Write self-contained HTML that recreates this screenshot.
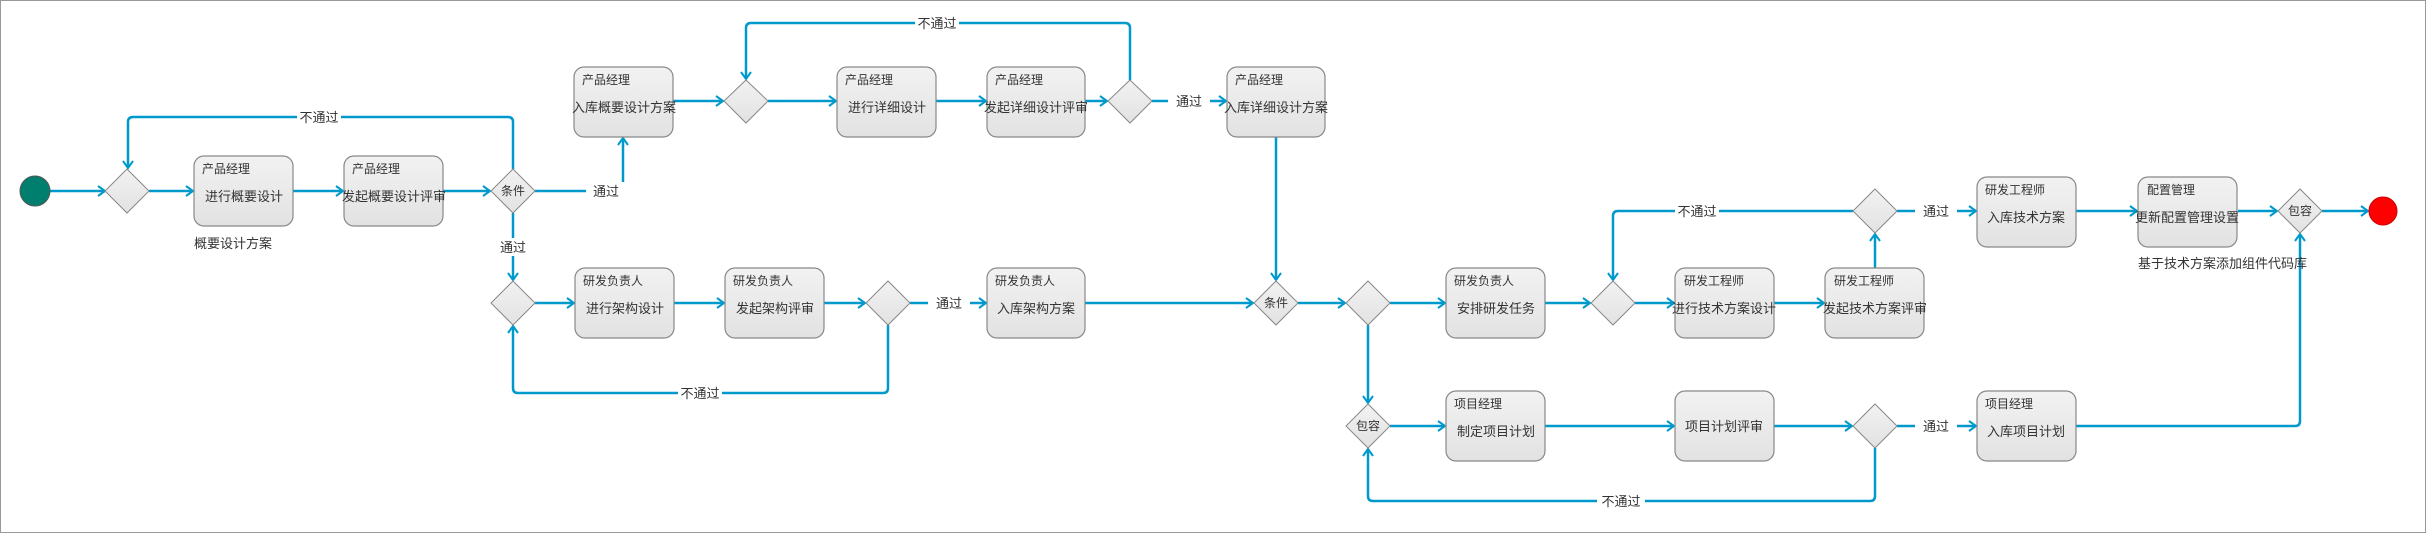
<!DOCTYPE html>
<html><head><meta charset="utf-8"><style>
html,body{margin:0;padding:0;background:#fff}
svg{display:block}
text{font-family:"Liberation Sans","Noto Sans CJK SC",sans-serif;fill:#333}
</style></head><body>
<svg width="2426" height="533" viewBox="0 0 2426 533" xmlns="http://www.w3.org/2000/svg">
<defs>
<linearGradient id="g" x1="0" y1="0" x2="0" y2="1"><stop offset="0" stop-color="#f2f2f2"/><stop offset="1" stop-color="#e2e2e2"/></linearGradient>
<marker id="a" markerWidth="10" markerHeight="12" refX="8" refY="6" orient="auto" markerUnits="userSpaceOnUse"><path d="M1,1 L8,6 L1,11" fill="none" stroke="#0099cc" stroke-width="2"/></marker>
</defs>
<rect x="0.5" y="0.5" width="2425" height="532" fill="#fff" stroke="#999"/>
<g fill="none" stroke="#0099cc" stroke-width="2.5" marker-end="url(#a)">
<path d="M50,191H105"/><path d="M149,191H193"/><path d="M293,191H343"/><path d="M443,191H490"/>
<path d="M513,169V122Q513,117 508,117H133Q128,117 128,122V168"/>
<path d="M535,191H618Q623,191 623,186V138"/>
<path d="M673,101H723"/><path d="M768,101H836"/><path d="M936,101H986"/><path d="M1085,101H1107"/>
<path d="M1130,80V28Q1130,23 1125,23H751Q746,23 746,28V79"/>
<path d="M1152,101H1226"/>
<path d="M1276,137V280"/>
<path d="M513,213V280"/>
<path d="M535,303H574"/><path d="M674,303H724"/><path d="M824,303H865"/><path d="M910,303H986"/><path d="M1085,303H1253"/><path d="M1298,303H1345"/><path d="M1390,303H1445"/><path d="M1545,303H1590"/><path d="M1635,303H1674"/><path d="M1774,303H1824"/>
<path d="M888,325V388Q888,393 883,393H518Q513,393 513,388V326"/>
<path d="M1875,268V234"/>
<path d="M1853,211H1618Q1613,211 1613,216V280"/>
<path d="M1897,211H1976"/><path d="M2076,211H2137"/><path d="M2238,211H2277"/><path d="M2322,211H2368"/>
<path d="M1368,325V403"/>
<path d="M1390,426H1445"/><path d="M1545,426H1674"/><path d="M1774,426H1852"/><path d="M1897,426H1976"/>
<path d="M2076,426H2295Q2300,426 2300,421V234"/>
<path d="M1875,448V496Q1875,501 1870,501H1373Q1368,501 1368,496V449"/>
</g>
<g font-size="13" text-anchor="middle">
<rect x="297" y="108" width="44" height="18" fill="#fff"/><text x="319" y="122">不通过</text>
<rect x="586" y="182" width="40" height="18" fill="#fff"/><text x="606" y="196">通过</text>
<rect x="915" y="14" width="44" height="18" fill="#fff"/><text x="937" y="28">不通过</text>
<rect x="1168" y="92" width="42" height="18" fill="#fff"/><text x="1189" y="106">通过</text>
<rect x="497" y="238" width="32" height="18" fill="#fff"/><text x="513" y="252">通过</text>
<rect x="928" y="294" width="42" height="18" fill="#fff"/><text x="949" y="308">通过</text>
<rect x="678" y="384" width="44" height="18" fill="#fff"/><text x="700" y="398">不通过</text>
<rect x="1675" y="202" width="44" height="18" fill="#fff"/><text x="1697" y="216">不通过</text>
<rect x="1915" y="202" width="42" height="18" fill="#fff"/><text x="1936" y="216">通过</text>
<rect x="1915" y="417" width="42" height="18" fill="#fff"/><text x="1936" y="431">通过</text>
<rect x="1597" y="492" width="48" height="18" fill="#fff"/><text x="1621" y="506">不通过</text>
</g>
<g stroke="#888" stroke-width="1" fill="url(#g)">
<polygon points="127,169 149,191 127,213 105,191"/>
<polygon points="513,169 535,191 513,213 491,191"/>
<polygon points="746,80 768,101 746,123 724,101"/>
<polygon points="1130,80 1152,101 1130,123 1108,101"/>
<polygon points="513,281 535,303 513,325 491,303"/>
<polygon points="888,281 910,303 888,325 866,303"/>
<polygon points="1276,281 1298,303 1276,325 1254,303"/>
<polygon points="1368,281 1390,303 1368,325 1346,303"/>
<polygon points="1368,404 1390,426 1368,448 1346,426"/>
<polygon points="1613,281 1635,303 1613,325 1591,303"/>
<polygon points="1875,189 1897,211 1875,233 1853,211"/>
<polygon points="1875,404 1897,426 1875,448 1853,426"/>
<polygon points="2300,189 2322,211 2300,233 2278,211"/>
</g>
<g font-size="12" text-anchor="middle">
<text x="513" y="195">条件</text><text x="1276" y="307">条件</text><text x="1368" y="430">包容</text><text x="2300" y="215">包容</text>
</g>
<circle cx="35" cy="191" r="15" fill="#007f6e" stroke="#555" stroke-width="1"/>
<circle cx="2383" cy="211" r="14" fill="#ff0000" stroke="#c00" stroke-width="1"/>
<g stroke="#888" stroke-width="1.2" fill="url(#g)">
<rect x="194" y="156" width="99" height="70" rx="10"/>
<rect x="344" y="156" width="99" height="70" rx="10"/>
<rect x="574" y="67" width="99" height="70" rx="10"/>
<rect x="837" y="67" width="99" height="70" rx="10"/>
<rect x="987" y="67" width="98" height="70" rx="10"/>
<rect x="1227" y="67" width="98" height="70" rx="10"/>
<rect x="575" y="268" width="99" height="70" rx="10"/>
<rect x="725" y="268" width="99" height="70" rx="10"/>
<rect x="987" y="268" width="98" height="70" rx="10"/>
<rect x="1446" y="268" width="99" height="70" rx="10"/>
<rect x="1446" y="391" width="99" height="70" rx="10"/>
<rect x="1675" y="268" width="99" height="70" rx="10"/>
<rect x="1825" y="268" width="99" height="70" rx="10"/>
<rect x="1977" y="177" width="99" height="70" rx="10"/>
<rect x="2138" y="177" width="99" height="70" rx="10"/>
<rect x="1675" y="391" width="99" height="70" rx="10"/>
<rect x="1977" y="391" width="99" height="70" rx="10"/>
</g>
<g font-size="12">
<text x="202" y="173">产品经理</text><text x="352" y="173">产品经理</text><text x="582" y="84">产品经理</text>
<text x="845" y="84">产品经理</text><text x="995" y="84">产品经理</text><text x="1235" y="84">产品经理</text>
<text x="583" y="285">研发负责人</text><text x="733" y="285">研发负责人</text><text x="995" y="285">研发负责人</text>
<text x="1454" y="285">研发负责人</text><text x="1454" y="408">项目经理</text>
<text x="1684" y="285">研发工程师</text><text x="1834" y="285">研发工程师</text><text x="1985" y="194">研发工程师</text>
<text x="2147" y="194">配置管理</text><text x="1985" y="408">项目经理</text>
<text x="194" y="248" font-size="13">概要设计方案</text>
<text x="2138" y="268" font-size="13">基于技术方案添加组件代码库</text>
</g>
<g font-size="13" text-anchor="middle">
<text x="244" y="201">进行概要设计</text><text x="394" y="201">发起概要设计评审</text><text x="624" y="112">入库概要设计方案</text>
<text x="887" y="112">进行详细设计</text><text x="1036" y="112">发起详细设计评审</text><text x="1276" y="112">入库详细设计方案</text>
<text x="625" y="313">进行架构设计</text><text x="775" y="313">发起架构评审</text><text x="1036" y="313">入库架构方案</text>
<text x="1496" y="313">安排研发任务</text><text x="1496" y="436">制定项目计划</text>
<text x="1724" y="313">进行技术方案设计</text><text x="1875" y="313">发起技术方案评审</text>
<text x="2026" y="222">入库技术方案</text><text x="2187" y="222">更新配置管理设置</text>
<text x="1724" y="431">项目计划评审</text><text x="2026" y="436">入库项目计划</text>
</g>
</svg>
</body></html>
